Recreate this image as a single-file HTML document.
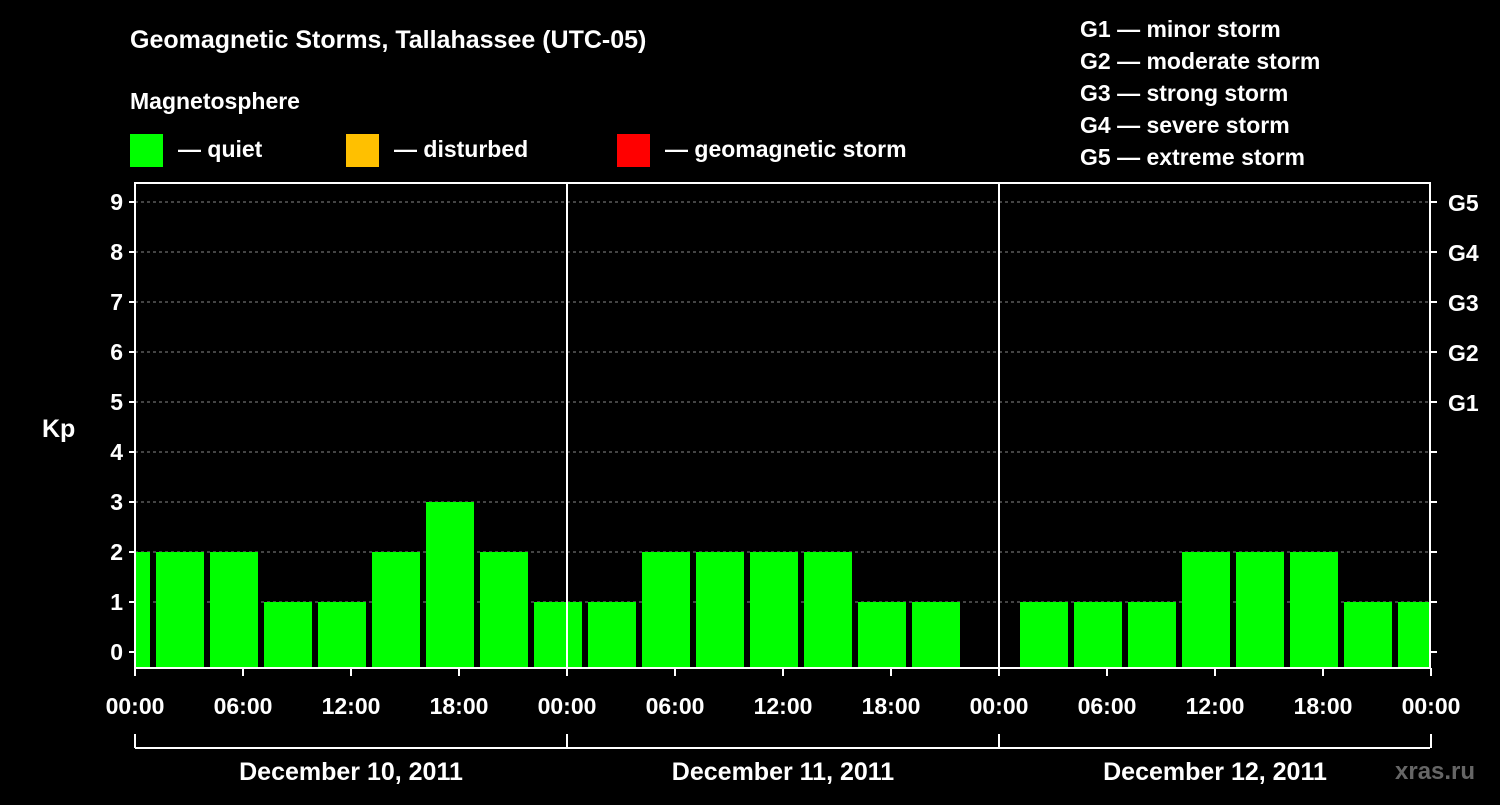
<!DOCTYPE html>
<html><head><meta charset="utf-8"><style>
body{margin:0;background:#000;width:1500px;height:800px;overflow:hidden}
text{font-family:"Liberation Sans",Arial,sans-serif;font-weight:bold;fill:#fff}
</style></head><body>
<svg id="chart" width="1500" height="800" xmlns="http://www.w3.org/2000/svg">
<text x="130" y="48" font-size="25">Geomagnetic Storms, Tallahassee (UTC-05)</text>
<text x="130" y="109" font-size="23">Magnetosphere</text>
<g><rect x="130" y="134" width="33" height="33" fill="#00ff00"/><text x="178" y="157" font-size="23">— quiet</text></g>
<g><rect x="346" y="134" width="33" height="33" fill="#ffc000"/><text x="394" y="157" font-size="23">— disturbed</text></g>
<g><rect x="617" y="134" width="33" height="33" fill="#ff0000"/><text x="665" y="157" font-size="23">— geomagnetic storm</text></g>
<g font-size="23">
<text x="1080" y="37">G1 — minor storm</text><text x="1080" y="69">G2 — moderate storm</text><text x="1080" y="101">G3 — strong storm</text><text x="1080" y="133">G4 — severe storm</text><text x="1080" y="165">G5 — extreme storm</text>
</g>
<g id="grid"></g><g id="bars"></g><g id="axes"></g>
<text x="1395" y="779" font-size="24" style="fill:#666">xras.ru</text>
</svg>
<script>
const kpValues=[2,2,2,1,1,2,3,2,1,1,2,2,2,2,1,1,null,1,1,1,2,2,2,1,1];
const startHour=-2;
const yTicks=[0,1,2,3,4,5,6,7,8,9];
const gLabels=["","","","","","G1","G2","G3","G4","G5"];
const xTickLabels=["00:00","06:00","12:00","18:00","00:00","06:00","12:00","18:00","00:00","06:00","12:00","18:00","00:00"];
const dayLabels=["December 10, 2011","December 11, 2011","December 12, 2011"];
const X0=135,X1=1430,PX=18,TOP=183,BOT=668;
const xs=h=>X0+h*PX, ys=v=>652-50*v;
const NS="http://www.w3.org/2000/svg";
function mk(p,t,a){const e=document.createElementNS(NS,t);for(const k in a)e.setAttribute(k,a[k]);p.appendChild(e);return e;}
const grid=document.getElementById('grid'),bars=document.getElementById('bars'),axes=document.getElementById('axes');
yTicks.forEach(v=>{if(v>0){const l=mk(grid,'line',{x1:X0,x2:X1,y1:ys(v),y2:ys(v),stroke:'#888','stroke-dasharray':'3,3'});

}});
kpValues.forEach((v,i)=>{if(v==null)return;const h=startHour+3*i;
let a=Math.max(xs(h)+3,X0),b=Math.min(xs(h+3)-3,X1);
const c=v>=5?'#ff0000':(v>=4?'#ffc000':'#00ff00');
const r=mk(bars,'rect',{x:a,y:ys(v),width:b-a,height:BOT-ys(v),fill:c});

});
mk(axes,'rect',{x:X0,y:TOP,width:X1-X0,height:BOT-TOP,fill:'none',stroke:'#fff','stroke-width':2});
[24,48].forEach(h=>mk(axes,'line',{x1:xs(h),x2:xs(h),y1:TOP,y2:BOT,stroke:'#fff','stroke-width':2}));
yTicks.forEach((v,i)=>{mk(axes,'line',{x1:X0-6,x2:X0,y1:ys(v),y2:ys(v),stroke:'#fff','stroke-width':2});
mk(axes,'line',{x1:X1,x2:X1+7,y1:ys(v),y2:ys(v),stroke:'#fff','stroke-width':2});
const t=mk(axes,'text',{x:X0-12,y:ys(v)+8,'font-size':23,'text-anchor':'end'});t.textContent=v;


if(gLabels[i]){const g=mk(axes,'text',{x:1448,y:ys(v)+9,'font-size':23});g.textContent=gLabels[i];

}});
const kp=mk(axes,'text',{x:42,y:437,'font-size':25});kp.textContent='Kp';


xTickLabels.forEach((s,i)=>{const x=xs(i*6);mk(axes,'line',{x1:x,x2:x,y1:BOT,y2:BOT+8,stroke:'#fff','stroke-width':2});
const t=mk(axes,'text',{x:x,y:714,'font-size':23,'text-anchor':'middle'});t.textContent=s;

});
mk(axes,'line',{x1:X0,x2:X1,y1:748,y2:748,stroke:'#fff','stroke-width':2});
[0,24,48,72].forEach(h=>mk(axes,'line',{x1:xs(h),x2:xs(h),y1:734,y2:748,stroke:'#fff','stroke-width':2}));
dayLabels.forEach((s,i)=>{const t=mk(axes,'text',{x:xs(i*24+12),y:780,'font-size':25,'text-anchor':'middle'});t.textContent=s;

});
</script>
</body></html>
